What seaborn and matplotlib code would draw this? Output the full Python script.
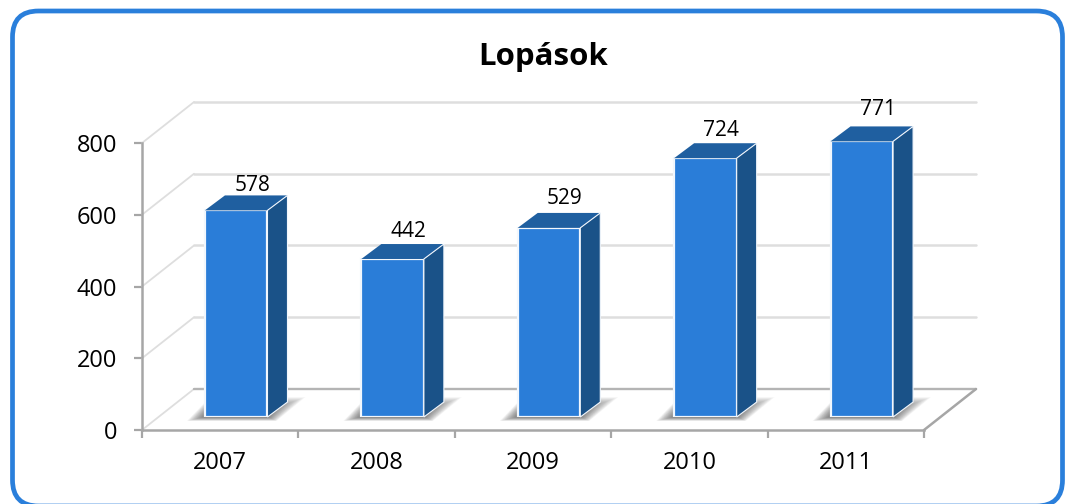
import matplotlib
matplotlib.use("Agg")
import matplotlib.pyplot as plt
from matplotlib.patches import FancyBboxPatch, Polygon
import seaborn as sns

years = ["2007", "2008", "2009", "2010", "2011"]
thefts = [578, 442, 529, 724, 771]
y_ticks = [0, 200, 400, 600, 800]
title = "Lopások"

sns.set_theme(style="white")
plt.rcParams['font.family'] = ['Open Sans', 'DejaVu Sans']

W, H = 1066, 504
fig = plt.figure(figsize=(W / 100, H / 100), dpi=100)


def px_axes(left, top, right, bottom):
    return fig.add_axes([left / W, 1 - bottom / H, (right - left) / W, (bottom - top) / H])


# background, rounded frame and title
bg = fig.add_axes([0, 0, 1, 1])
bg.set_xlim(0, W)
bg.set_ylim(H, 0)
bg.axis("off")
bg.add_patch(FancyBboxPatch((12.5, 11), 1050, 495, boxstyle="round,pad=0,rounding_size=26",
                            fc="white", ec="#2a7fdb", lw=3.4, clip_on=True))
bg.text(543.5, 57, title, fontsize=22.5, fontweight="bold", color="black", ha="center", va="center")

# main axes, the front plane of the 3D box
ax = px_axes(142, 143, 924, 430)
ax.set_facecolor("none")
ax.set_xlim(-0.5, 4.5)
ax.set_ylim(0, 800)
px_x = 1 / 156.4
px_y = 800 / 287
wall_dx = 52 * px_x
wall_dy = 41 * px_y
GRID = "#dedede"
AXIS = "#a6a6a6"

for v in y_ticks[1:]:
    ax.plot([-0.5, -0.5 + wall_dx], [v, v + wall_dy], color=GRID, lw=1.3, clip_on=False)
    ax.plot([-0.5 + wall_dx, 4.5 + wall_dx], [v + wall_dy, v + wall_dy], color=GRID, lw=1.8, clip_on=False)
ax.plot([-0.5, -0.5 + wall_dx], [0, wall_dy], color=GRID, lw=1.3, clip_on=False)
ax.plot([-0.5 + wall_dx, 4.5 + wall_dx], [wall_dy, wall_dy], color="#b4b4b4", lw=1.7, clip_on=False)
ax.plot([4.5, 4.5 + wall_dx], [0, wall_dy], color=AXIS, lw=1.8, clip_on=False)

for s in ["top", "right"]:
    ax.spines[s].set_visible(False)
for s in ["left", "bottom"]:
    ax.spines[s].set_color(AXIS)
    ax.spines[s].set_linewidth(1.8)
ax.set_yticks(y_ticks)
ax.set_yticklabels([str(v) for v in y_ticks], fontsize=17, color="black")
ax.set_xticks([i - 0.5 for i in range(len(years) + 1)])
ax.set_xticklabels([])
ax.set_xticks(range(len(years)), minor=True)
ax.set_xticklabels(years, minor=True, fontsize=17, color="black")
ax.tick_params(axis="both", which="major", length=6, width=1.6, color=AXIS, direction="out", bottom=True, left=True)
ax.tick_params(axis="y", which="major", pad=12)
ax.tick_params(axis="x", which="minor", length=0, pad=15)

# bars sit partway back on the floor
ax_bars = px_axes(158, 131, 940, 417)
ax_bars.set_facecolor("none")
sns.barplot(x=years, y=thefts, color="#2a7dd8", saturation=1, width=0.4,
            edgecolor="#f2f7fd", linewidth=1.6, ax=ax_bars)
ax_bars.set_xlim(-0.5, 4.5)
ax_bars.set_ylim(0, 800)
ax_bars.axis("off")

bar_dx = 20 * px_x
bar_dy = 15 * px_y
label_gaps = [10, 13, 14, 13, 17]
n_layers = 24

for bar, v, gap in zip(ax_bars.patches, thefts, label_gaps):
    x0 = bar.get_x()
    x1 = x0 + bar.get_width()
    h = bar.get_height()
    # soft floor shadow, built from stacked translucent layers
    for i in range(n_layers):
        s = 1 - i / n_layers
        ax_bars.add_patch(Polygon(
            [(x0 - (1 + 17 * s) * px_x, -4 * s * px_y),
             (x1 + (1 + 8 * s) * px_x, -4 * s * px_y),
             (x1 + (6 + 32 * s) * px_x, (8 + 12 * s) * px_y),
             (x0 + 5 * px_x, (8 + 12 * s) * px_y)],
            closed=True, fc="#404040", ec="none", alpha=0.035, zorder=0.5, clip_on=False))
    # side and top faces
    ax_bars.add_patch(Polygon([(x1, 0), (x1 + bar_dx, bar_dy), (x1 + bar_dx, h + bar_dy), (x1, h)],
                              closed=True, fc="#1a5288", ec="#f2f7fd", lw=0.8, zorder=2, clip_on=False))
    ax_bars.add_patch(Polygon([(x0, h), (x1, h), (x1 + bar_dx, h + bar_dy), (x0 + bar_dx, h + bar_dy)],
                              closed=True, fc="#1f5fa0", ec="none", zorder=1.9, clip_on=False))
    ax_bars.annotate(str(v), (x0 + bar.get_width() / 2 + bar_dx * 0.8, h + bar_dy),
                     xytext=(0, gap * 0.72), textcoords="offset points", ha="center", va="center",
                     fontsize=15, color="black", zorder=3, annotation_clip=False)

plt.savefig("out.png", dpi=100)
